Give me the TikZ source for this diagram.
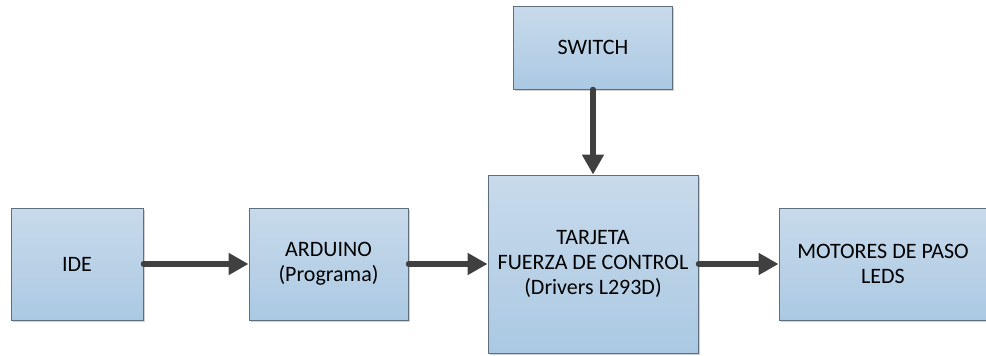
\documentclass[tikz,border=0pt]{standalone}
\usepackage{fontspec}
\setmainfont{Carlito}
\usepackage{tikz}
\usetikzlibrary{positioning,arrows.meta,shadows}
\definecolor{bloquetop}{HTML}{C8DAEB}
\definecolor{bloquebot}{HTML}{ABC9E3}
\definecolor{bloqueborde}{HTML}{5F6E7C}
\definecolor{flechagris}{HTML}{404040}

\begin{document}
\begin{tikzpicture}[x=1pt, y=-1pt,
    every node/.style={font=\fontsize{22}{25}\selectfont},
    bloque/.style={draw=bloqueborde, line width=1pt, top color=bloquetop,
          bottom color=bloquebot, align=center, inner sep=0pt,
          drop shadow={shadow xshift=1.5pt, shadow yshift=-1.5pt, opacity=0.3, fill=black!60}},
    flecha/.style={-{Triangle[length=20pt,width=21pt]}, line width=5.5pt, line cap=round, flechagris}]
    \useasboundingbox (0,0) rectangle (986,356);
    \node[bloque, minimum width=132pt, minimum height=112pt] (ide) at (77,264) {IDE};
    \node[bloque, minimum width=159pt, minimum height=112pt, right=105pt of ide] (arduino)
      {ARDUINO\\(Programa)};
    \node[bloque, minimum width=210pt, minimum height=178pt, right=79pt of arduino] (tarjeta)
      {TARJETA\\FUERZA DE CONTROL\\(Drivers L293D)};
    \node[bloque, minimum width=208pt, minimum height=112pt, right=80pt of tarjeta] (motores)
      {MOTORES DE PASO\\LEDS};
    \node[bloque, minimum width=159pt, minimum height=83pt, above=85pt of tarjeta] (switch)
      {SWITCH};
    \draw[flecha] (ide) -- (arduino);
    \draw[flecha] (arduino) -- (tarjeta);
    \draw[flecha] (tarjeta) -- (motores);
    \draw[flecha] (switch) -- (tarjeta);
  \end{tikzpicture}
\end{document}
